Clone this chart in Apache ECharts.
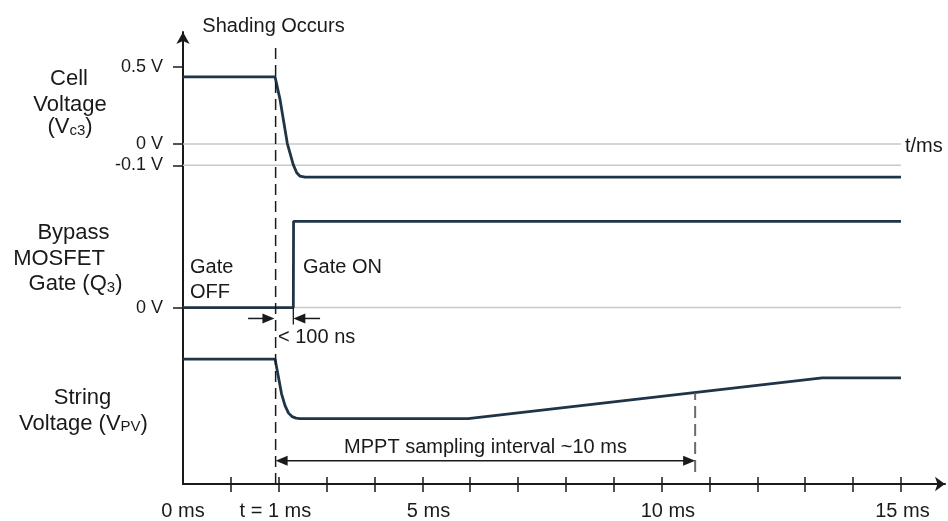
<!DOCTYPE html>
<html>
<head>
<meta charset="utf-8">
<script src="https://cdn.jsdelivr.net/npm/echarts@6/dist/echarts.min.js"></script>
<style>
html,body{margin:0;padding:0;background:#fff;}
#c{width:948px;height:521px;}
</style>
</head>
<body>
<div id="c"></div>
<script>
// ---- axis ticks / labels (time in ms, diagram scale) ----
const xTickValues = [1,2,3,4,5,6,7,8,9,10,11,12,13,14,15];
const xLabelValues = [0, 1.93, 5.13, 10.13, 15.03];
const xLabelTexts = ['0 ms', 't = 1 ms', '5 ms', '10 ms', '15 ms'];
// vertical axis: diagram levels of the three stacked traces
const yTickValues = [42.1, 34.3, 32.15, 17.8];
const yTickLabels = ['0.5 V', '0 V', '-0.1 V', '0 V'];

// ---- traces ----
const cellTime  = [0, 1.923, 2.027, 2.180, 2.305, 2.376, 2.445, 2.55, 15];
const cellLevel = [41.07, 41.07, 38.8, 34.35, 32.2, 31.4, 31.05, 30.95, 30.95];
const gateTime  = [0, 2.305, 2.31, 15];
const gateLevel = [17.8, 17.8, 26.5, 26.5];
const stringTime  = [0, 1.923, 1.986, 2.059, 2.132, 2.205, 2.278, 2.362, 2.445, 5.956, 13.354, 15];
const stringLevel = [12.6, 12.6, 11.0, 9.1, 7.9, 7.15, 6.8, 6.65, 6.6, 6.6, 10.7, 10.7];
const refLevels = [34.3, 32.15, 17.8];      // 0 V, -0.1 V, gate 0 V
const refSpan = [0, 15];
// ---- annotations ----
const shadingTime = 1.935;
const shadingSpan = [0, 44.3];
const mpptTime = 10.70;
const mpptSpan = [1.2, 9.15];
const gateEdgeExt = [17.8, 16.1];
// arrows: [xFrom, xTo, y, headAtStart, headAtEnd]
const arrows = [
  [1.935, 10.70, 2.35, 1, 1],
  [1.36, 1.91, 16.7, 0, 1],
  [2.864, 2.305, 16.7, 0, 1]
];

const FONT = '"Liberation Sans", Arial, Helvetica, sans-serif';
const INK = '#1a1a1a';
const SIG = '#1f3547';
const GRAY = '#c8c8c8';
const zip = (xs, ys) => xs.map((x, i) => [x, ys[i]]);

function lineSeries(data, color, width, type, z) {
  return {
    type: 'line', data: data, symbol: 'none', showSymbol: false, silent: true,
    lineStyle: {color: color, width: width, type: type || 'solid'}, z: z || 2,
    animation: false
  };
}

function renderArrow(params, api) {
  const x1 = api.value(0), x2 = api.value(1), y = api.value(2);
  const hs = api.value(3), he = api.value(4);
  const p1 = api.coord([x1, y]), p2 = api.coord([x2, y]);
  const dir = Math.sign(p2[0] - p1[0]) || 1;
  const L = 12, W = 5;
  const ch = [];
  let a = p1[0], b = p2[0];
  if (hs) {
    ch.push({type: 'polygon', shape: {points: [[p1[0], p1[1]], [p1[0] + dir * L, p1[1] - W], [p1[0] + dir * L, p1[1] + W]]}, style: {fill: INK}});
    a = p1[0] + dir * L * 0.8;
  }
  if (he) {
    ch.push({type: 'polygon', shape: {points: [[p2[0], p2[1]], [p2[0] - dir * L, p2[1] - W], [p2[0] - dir * L, p2[1] + W]]}, style: {fill: INK}});
    b = p2[0] - dir * L * 0.8;
  }
  ch.push({type: 'line', shape: {x1: a, y1: p1[1], x2: b, y2: p2[1]}, style: {stroke: INK, lineWidth: 1.5}});
  return {type: 'group', children: ch};
}

function txt(text, x, y, size, align, rich) {
  const st = {
    text: text, fontSize: size, fontFamily: FONT, fill: INK,
    align: align || 'center', textAlign: align || 'center',
    verticalAlign: 'middle', textVerticalAlign: 'middle'
  };
  if (rich) st.rich = rich;
  return {type: 'text', x: x, y: y, style: st, z: 100, silent: true};
}
const subRich = {s: {fontSize: 15, fontFamily: FONT, fill: INK, verticalAlign: 'bottom', lineHeight: 8}};

const chart = echarts.init(document.getElementById('c'), null, {renderer: 'canvas'});
const option = {
  animation: false,
  backgroundColor: '#ffffff',
  grid: {left: 183, right: 3, top: 32, bottom: 33, containLabel: false},
  xAxis: [{
    type: 'value', min: 0, max: 15.92, position: 'bottom',
    axisLine: {show: true, onZero: false, symbol: ['none', 'arrow'], symbolSize: [11, 10], lineStyle: {color: INK, width: 2}},
    axisTick: {show: true, inside: true, length: 7, customValues: xTickValues, lineStyle: {color: INK, width: 1.5}},
    axisLabel: {
      show: true, customValues: xLabelValues, margin: 17, fontSize: 20, fontFamily: FONT, color: INK,
      formatter: function (v) { const i = xLabelValues.indexOf(v); return i >= 0 ? xLabelTexts[i] : ''; }
    },
    splitLine: {show: false}
  }, {
    type: 'value', min: 0, max: 15.92, position: 'bottom', gridIndex: 0,
    axisLine: {show: false, onZero: false},
    axisTick: {show: true, inside: false, length: 8, customValues: xTickValues, lineStyle: {color: INK, width: 1.5}},
    axisLabel: {show: false},
    splitLine: {show: false}
  }],
  yAxis: {
    type: 'value', min: 0, max: 45.6,
    axisLine: {show: true, onZero: false, symbol: ['none', 'arrow'], symbolSize: [10, 12], lineStyle: {color: INK, width: 2}},
    axisTick: {show: true, inside: false, length: 10, customValues: yTickValues, lineStyle: {color: INK, width: 1.5}},
    axisLabel: {
      show: true, customValues: yTickValues, margin: 20, fontSize: 18, fontFamily: FONT, color: INK,
      formatter: function (v) {
        let best = 0, d = Infinity;
        yTickValues.forEach(function (t, i) { if (Math.abs(t - v) < d) { d = Math.abs(t - v); best = i; } });
        return yTickLabels[best];
      }
    },
    splitLine: {show: false}
  },
  series: [
    ...refLevels.map(lv => lineSeries(refSpan.map(x => [x, lv]), GRAY, 1.5, 'solid', 1)),
    lineSeries(zip(cellTime, cellLevel), SIG, 2.8, 'solid', 3),
    lineSeries(zip(gateTime, gateLevel), SIG, 2.8, 'solid', 3),
    lineSeries(zip(stringTime, stringLevel), SIG, 2.8, 'solid', 3),
    lineSeries(shadingSpan.map(y => [shadingTime, y]), INK, 1.5, [11, 6], 4),
    lineSeries(mpptSpan.map(y => [mpptTime, y]), '#6b6b6b', 2, [12, 6], 4),
    lineSeries(gateEdgeExt.map(y => [gateTime[1], y]), INK, 1.3, 'solid', 4),
    {
      type: 'custom', renderItem: renderArrow, data: arrows, silent: true, z: 5,
      encode: {x: [0, 1], y: 2}, clip: false
    }
  ],
  graphic: [
    txt('Shading Occurs', 273.5, 26, 20),
    txt('t/ms', 905, 146, 20, 'left'),
    txt('Cell', 69, 79, 22),
    txt('Voltage', 70, 105, 22),
    txt('(V{s|c3})', 70, 127, 22, 'center', subRich),
    txt('Bypass', 73.5, 233, 22),
    txt('MOSFET', 59, 259, 22),
    txt('Gate (Q{s|3})', 75.5, 284, 22, 'center', subRich),
    txt('String', 82.5, 397.5, 22),
    txt('Voltage (V{s|PV})', 83.5, 423.5, 22, 'center', subRich),
    txt('Gate', 190, 267, 20, 'left'),
    txt('OFF', 190, 292, 20, 'left'),
    txt('Gate ON', 303, 267, 20, 'left'),
    txt('< 100 ns', 278, 337.5, 20, 'left'),
    txt('MPPT sampling interval ~10 ms', 485.5, 447, 20)
  ]
};
chart.setOption(option);
</script>
</body>
</html>
